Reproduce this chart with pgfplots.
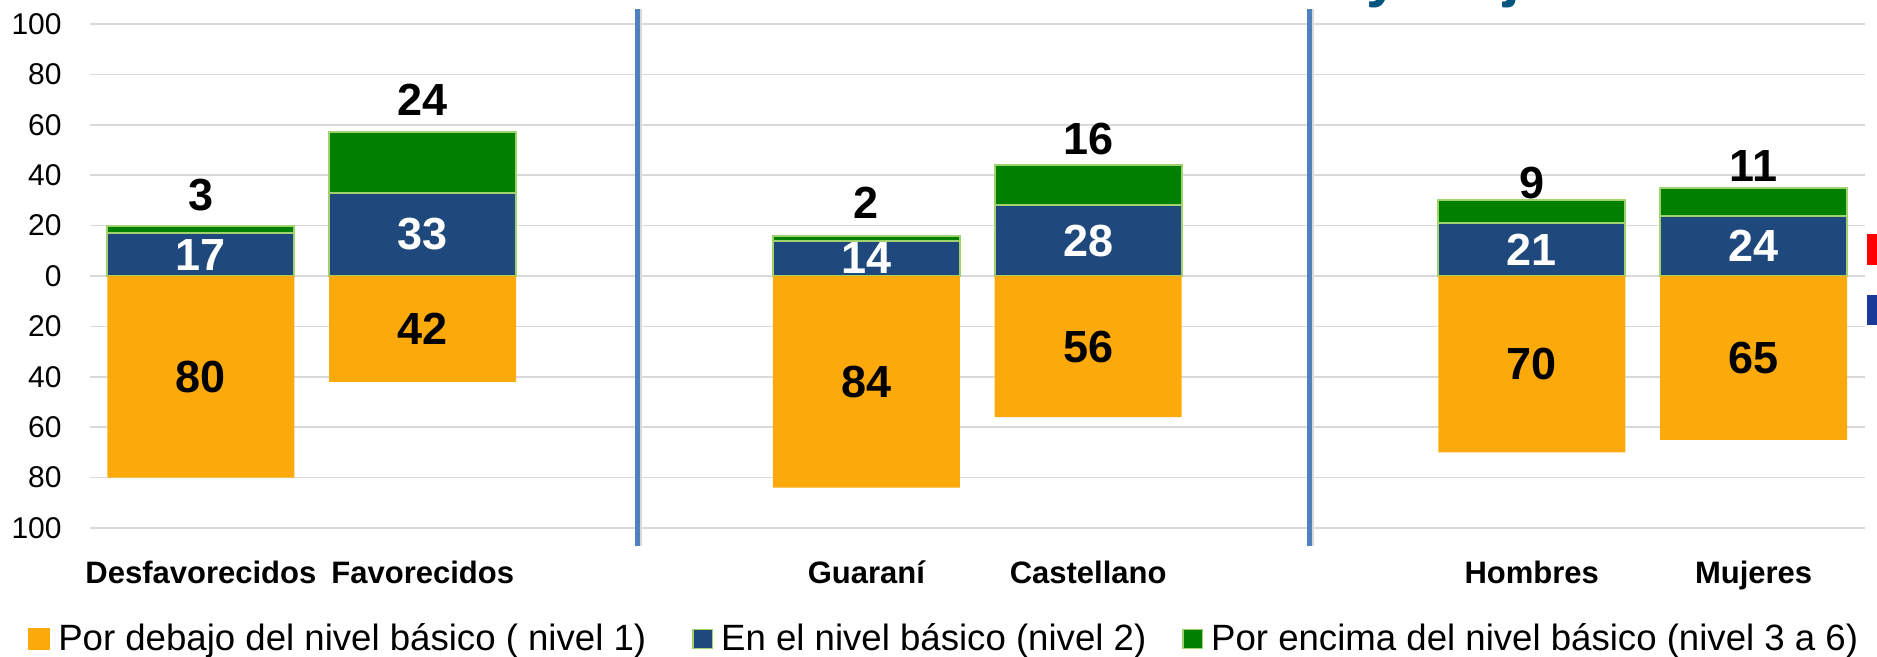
\documentclass[border=0pt]{standalone}
\usepackage{fontspec}
\setmainfont{Liberation Sans}
\usepackage{pgfplots}
\usepackage{pgfplotstable}
\pgfplotsset{compat=1.18}

\definecolor{cOrange}{RGB}{252,170,11}
\definecolor{cBlue}{RGB}{31,73,125}
\definecolor{cGreen}{RGB}{0,128,0}
\definecolor{cEdge}{RGB}{160,210,110}
\definecolor{cGrid}{RGB}{217,217,217}
\definecolor{cSep}{RGB}{79,129,189}
\definecolor{cTitle}{RGB}{0,85,128}

\newcommand\labfont{\fontsize{22.5}{26}\selectfont\bfseries}
\newcommand\catfont{\fontsize{15.5}{18}\selectfont\bfseries}
\newcommand\tickfont{\fontsize{15}{18}\selectfont}
\newcommand\legfont{\fontsize{18.3}{22}\selectfont}

% x: category position (2 and 5 are the gaps), dy: label offset above bar (px)
\pgfplotstableread{
x org blu grn dy
0 -80 17 3  14
1 -42 33 24 16
3 -84 14 2  16
4 -56 28 16 9
6 -70 21 9  0
7 -65 24 11 5
}\datatable

\begin{document}
\begin{tikzpicture}
\useasboundingbox (0,0) rectangle (938.5pt,328.5pt);
\begin{axis}[
  at={(45pt,64.5pt)}, anchor=south west,
  scale only axis, width=887.25pt, height=252pt,
  xmin=-0.5, xmax=7.5, ymin=-100, ymax=100,
  ybar, bar width=93.5pt, bar shift=0pt,
  clip=false,
  axis line style={draw=none}, tick style={draw=none},
  ytick={-100,-80,...,100},
  yticklabels={100,80,60,40,20,0,20,40,60,80,100},
  xtick={0,1,3,4,6,7},
  xticklabels={Desfavorecidos,Favorecidos,Guaraní,Castellano,Hombres,Mujeres},
  ymajorgrids, grid style={cGrid, line width=0.75pt},
  /pgf/number format/assume math mode=true,
  yticklabel style={font=\tickfont, anchor=east, inner sep=0pt, xshift=-14pt},
  xticklabel style={font=\catfont, anchor=base, inner sep=0pt, yshift=-23.5pt},
  legend columns=3,
  legend style={draw=none, fill=none, font=\legfont, at={(-0.0349,-0.2202)}, anchor=west,
    inner sep=0pt, nodes={inner sep=0pt},
    /tikz/every odd column/.append style={column sep=4pt},
    /tikz/column 2/.append style={column sep=23pt},
    /tikz/column 4/.append style={column sep=18pt}},
]
% positive part: green drawn to the total, blue over it
\addplot[forget plot, bar shift=0pt, fill=cGreen, draw=cEdge, line width=1pt,
  point meta=\thisrow{grn},
  visualization depends on={\thisrow{dy} \as \lbloff},
  nodes near coords, nodes near coords align={vertical},
  every node near coord/.append style={font=\labfont, text=black, inner sep=0pt, anchor=south, yshift=\lbloff*0.5pt}]
  table[x=x, y expr=\thisrow{blu}+\thisrow{grn}] {\datatable};
\addplot[forget plot, bar shift=0pt, fill=cBlue, draw=cEdge, line width=1pt,
  point meta=\thisrow{blu},
  visualization depends on=y \as \rawy,
  nodes near coords, nodes near coords align={center},
  every node near coord/.append style={font=\labfont, text=white, inner sep=0pt, anchor=center, shift={(axis direction cs:0,-\rawy/2)}}]
  table[x=x, y=blu] {\datatable};
% negative part
\addplot[forget plot, bar shift=0pt, fill=cOrange, draw=none,
  point meta={abs(\thisrow{org})},
  visualization depends on=y \as \rawy,
  nodes near coords, nodes near coords align={center},
  every node near coord/.append style={font=\labfont, text=black, inner sep=0pt, anchor=center, shift={(axis direction cs:0,-\rawy/2)}}]
  table[x=x, y=org] {\datatable};

\addlegendimage{legend image code/.code={\fill[cOrange] (0pt,-5.25pt) rectangle (10.5pt,5.25pt);}}
\addlegendentry{Por debajo del nivel básico ( nivel 1)}
\addlegendimage{legend image code/.code={\draw[fill=cBlue, draw=cEdge, line width=0.75pt] (0.4pt,-4.85pt) rectangle (10.1pt,4.85pt);}}
\addlegendentry{En el nivel básico (nivel 2)}
\addlegendimage{legend image code/.code={\draw[fill=cGreen, draw=cEdge, line width=0.75pt] (0.4pt,-4.85pt) rectangle (10.1pt,4.85pt);}}
\addlegendentry{Por encima del nivel básico (nivel 3 a 6)}

% group separators
\draw[black!15, line width=1.5pt] (axis cs:1.983,105.8) -- (axis cs:1.983,-107.1);
\draw[black!15, line width=1.5pt] (axis cs:5.013,105.8) -- (axis cs:5.013,-107.1);
\draw[cSep, line width=2.5pt] (axis cs:1.97,105.8) -- (axis cs:1.97,-107.1);
\draw[cSep, line width=2.5pt] (axis cs:5.0,105.8) -- (axis cs:5.0,-107.1);
\end{axis}
% cut-off pieces at the edges of the original picture
\node[anchor=base west, inner sep=0pt, text=cTitle, font=\fontsize{30}{34}\selectfont\bfseries] at (683pt,330.5pt) {y Mujeres};
\fill[red] (933.5pt,196pt) rectangle (945pt,211.5pt);
\fill[cBlue!80!blue] (933.5pt,166pt) rectangle (945pt,181pt);
\end{tikzpicture}
\end{document}
